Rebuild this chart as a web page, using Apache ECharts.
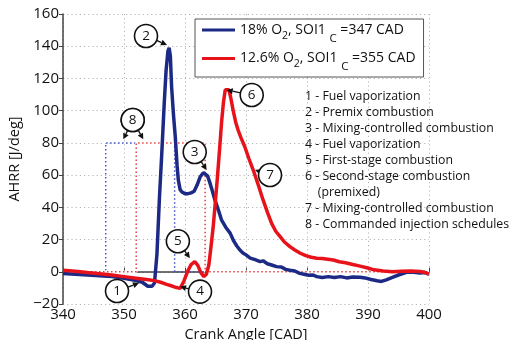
<!DOCTYPE html>
<html><head><meta charset="utf-8">
<script src="https://cdn.jsdelivr.net/npm/echarts@6/dist/echarts.min.js"></script>
<style>html,body{margin:0;padding:0;background:#fff}#c{width:509px;height:340px}</style>
</head><body><div id="c"></div>
<script>
// ---- data ----
const blueName = '18% O2, SOI1c =347 CAD';
const redName = '12.6% O2, SOI1c =355 CAD';
const blueCAD = [340,342,344,346,348,350,352,353,353.9,354.6,355,355.4,355.8,356.2,356.6,356.9,357.2,357.4,357.6,357.8,358.1,358.4,358.7,358.9,359.2,359.5,360,360.5,361,361.5,362,362.5,363,363.3,363.7,364.1,364.5,364.9,365.5,366,366.7,367.4,368,368.5,369,369.5,370,370.7,371.5,372.3,372.8,373.5,374.2,375,375.8,376.5,377.2,378,378.8,379.5,380.3,381,381.6,382.5,383.5,384.5,385.5,386.5,387.5,388.7,389.5,390.5,391.5,392.2,393,394,395,396.3,397.5,398.5,399.3,400];
const blueAHRR = [-1,-1.5,-2,-2.5,-3,-4,-5.5,-6.5,-9,-9,-7,11,45,74,105,125,137,139,134,115,98,84,66,57,51,49.5,48.5,48.5,49,50,54,59,61.5,62,59.5,55,50,44.6,38,32,27.5,24,19,16,13.5,11.7,10.5,8.5,7.5,6.3,6.8,5,4.2,3.2,3,1.5,1,0.5,-1,-1.5,-2.2,-2,-3,-3.5,-3,-3.5,-3,-3.8,-3.2,-3.4,-3.8,-4.8,-5.6,-6,-5,-3.5,-2,-0.3,-0.3,-0.8,-0.5,-1.4];
const redCAD = [340,342,344,346,348,350,352,354,355,356,357,358,358.6,359.2,359.8,360.4,361,361.6,362.1,362.6,363.1,363.5,363.9,364.2,364.6,364.9,365.3,365.7,366,366.3,366.6,366.9,367.2,367.5,367.9,368.3,368.7,369.2,369.8,370.5,371.2,372,372.8,373.5,374.2,374.9,375.6,376.3,377.2,378,378.9,379.8,380.7,381.6,382.5,383.4,384.3,385.3,386.3,387.5,388.7,389.8,391,392.5,394,395.5,397,398.5,399.3,400];
const redAHRR = [1,0.3,-0.5,-1.2,-2,-3,-4,-5,-5.5,-6.5,-7.8,-9,-9.8,-10.3,-6,0,4.5,6.3,4,-0.5,-3,-1.5,4,13.5,27,40,58,77.6,93,105,113,114,113,108,100,93,88,83,77.6,70,63,54,44.6,37,30,25,21.8,18.5,15.6,13.5,11.5,10,9,8.4,8.2,7.8,7.3,6.2,5.6,4.5,3.5,2.5,1.2,0.5,0,0.3,0.5,0.2,-0.3,-1.4];
// commanded injection schedules (CAD, command level)
const blueInjCAD = [340,347,347,358.3,358.3,400];
const blueInjVal = [0,0,80,80,0,0];
const redInjCAD = [340,352,352,363.3,363.3,400];
const redInjVal = [0,0,80,80,0,0];
// annotation labels and the data points they point at
const annoLabels = ['1','2','3','4','5','6','7','8','8'];
const annoTipCAD = [352.46,357.05,363.56,359.18,360.8,366.84,371.48,349.89,353.16];
const annoTipVal = [-7.0,140.8,63.2,-9.2,8.4,112.8,63.2,82.2,82.2];
const notes = ['1 - Fuel vaporization','2 - Premix combustion','3 - Mixing-controlled combustion','4 - Fuel vaporization','5 - First-stage combustion','6 - Second-stage combustion','    (premixed)','7 - Mixing-controlled combustion','8 - Commanded injection schedules'];
const xName = 'Crank Angle [CAD]';
const yName = 'AHRR [J/deg]';

// ---- layout (pixel offsets of the numbered circles from their tips) ----
const annoOffX = [-22,-21,-12,20,-12,25,15,9.4,-10.6];
const annoOffY = [8,-9,-18,5,-17,5,5,-19.3,-19.3];

const FONT = 'Open Sans';
const zip = (a,b)=>a.map((v,i)=>[v,b[i]]);
const chart = echarts.init(document.getElementById('c'));
const BLUE = '#1c2a85', RED = '#e8121b';

const richBase = {
  n:{fontFamily:FONT,fontSize:14,color:'#111',lineHeight:20},
  s:{fontFamily:FONT,fontSize:10.5,color:'#111',lineHeight:20,height:8,verticalAlign:'bottom'},
  c:{fontFamily:FONT,fontSize:11.5,color:'#111',lineHeight:20,height:3,verticalAlign:'bottom'}
};
function legendFmt(name){
  const m = name.match(/^(.*)O2, SOI1c (.*)$/);
  return '{n|'+m[1]+'O}{s|2}{n|, SOI1 }{c|C}{n| '+m[2]+'}';
}

const option = {
  animation:false,
  grid:{left:63,right:80,top:14,bottom:36,outerBoundsMode:'none',containLabel:false},
  xAxis:{type:'value',min:340,max:400,interval:10,
    name:xName,nameLocation:'middle',nameGap:14,
    nameTextStyle:{fontFamily:FONT,fontSize:14.5,color:'#111'},
    axisLine:{lineStyle:{color:'#444',width:1.5}},
    axisTick:{inside:true,length:4,lineStyle:{color:'#444'}},
    axisLabel:{fontFamily:FONT,fontSize:15,color:'#111',margin:3},
    splitLine:{show:true,lineStyle:{color:'#b5b5b5',type:[1.2,3],width:1}}},
  yAxis:{type:'value',min:-20,max:160,interval:20,
    name:yName,nameLocation:'middle',nameGap:25,
    nameTextStyle:{fontFamily:FONT,fontSize:14.5,color:'#111'},
    axisLine:{show:true,lineStyle:{color:'#444',width:1.5}},
    axisTick:{show:true,inside:false,length:4,lineStyle:{color:'#444'}},
    axisLabel:{fontFamily:FONT,fontSize:15,color:'#111',margin:4,formatter:v=>String(v).replace('-','\u2212')},
    splitLine:{show:true,lineStyle:{color:'#b5b5b5',type:[1.2,3],width:1}}},
  legend:{orient:'vertical',left:195,top:19,z:20,
    data:[blueName,redName],
    icon:'rect',itemWidth:33,itemHeight:3,itemGap:7,
    padding:[4,8,4,7],backgroundColor:'#fff',borderColor:'#555',borderWidth:1,
    formatter:legendFmt,
    textStyle:{rich:richBase}},
  graphic: notes.map((t,i)=>({type:'text',left:305,top:90+i*16,z:30,
      style:{text:t,fontFamily:FONT,fontSize:12.3,fill:'#111'}})),
  series:[
    {type:'line',data:zip(blueInjCAD,blueInjVal),symbol:'none',silent:true,z:1,
      lineStyle:{color:'#4252c8',width:1.5,type:[1.5,2.5]}},
    {type:'line',data:zip(redInjCAD,redInjVal),symbol:'none',silent:true,z:1,
      lineStyle:{color:'#ffffff',width:2.5}},
    {type:'line',data:zip(redInjCAD,redInjVal),symbol:'none',silent:true,z:1,
      lineStyle:{color:'#e44040',width:1.5,type:[1.5,2.5]}},
    {name:blueName,type:'line',data:zip(blueCAD,blueAHRR),symbol:'none',z:3,
      itemStyle:{color:BLUE},lineStyle:{color:BLUE,width:3.5}},
    {name:redName,type:'line',data:zip(redCAD,redAHRR),symbol:'none',z:4,
      itemStyle:{color:RED},lineStyle:{color:RED,width:3.5}},
    {type:'custom',z:10,silent:true,clip:false,
      data:annoLabels.map((l,i)=>[annoTipCAD[i],annoTipVal[i],i]),
      encode:{x:0,y:1},
      renderItem:function(params,api){
        const i = api.value(2);
        const t = api.coord([api.value(0),api.value(1)]);
        const cx = t[0]+annoOffX[i], cy = t[1]+annoOffY[i];
        const r = 11.5;
        const dx = t[0]-cx, dy = t[1]-cy, d = Math.hypot(dx,dy);
        const ux = dx/d, uy = dy/d;
        const sx = cx+ux*r, sy = cy+uy*r;
        const hl = 6, hw = 3;
        const bx = t[0]-ux*hl, by = t[1]-uy*hl;
        return {type:'group',children:[
          {type:'line',shape:{x1:sx,y1:sy,x2:bx,y2:by},style:{stroke:'#111',lineWidth:1.3}},
          {type:'polygon',shape:{points:[[t[0],t[1]],[bx-uy*hw,by+ux*hw],[bx+uy*hw,by-ux*hw]]},style:{fill:'#111'}},
          {type:'circle',shape:{cx:cx,cy:cy,r:r},style:{fill:'#fff',stroke:'#111',lineWidth:1.6}},
          {type:'text',x:cx,y:cy,style:{text:annoLabels[i],fontFamily:FONT,fontSize:13.5,fill:'#111',align:'center',verticalAlign:'middle'}}
        ]};
      }}
  ]
};
chart.setOption(option);
</script></body></html>
